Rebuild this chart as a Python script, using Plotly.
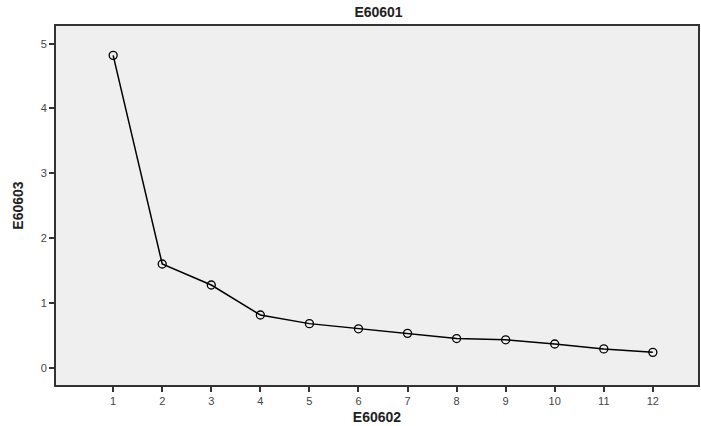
import plotly.graph_objects as go

components = [1, 2, 3, 4, 5, 6, 7, 8, 9, 10, 11, 12]
eigenvalues = [4.82, 1.60, 1.276, 0.813, 0.68, 0.60, 0.53, 0.45, 0.43, 0.366, 0.29, 0.237]
x_ticks = [1, 2, 3, 4, 5, 6, 7, 8, 9, 10, 11, 12]
y_ticks = [0, 1, 2, 3, 4, 5]

fig = go.Figure()
fig.add_trace(go.Scatter(
    x=components, y=eigenvalues, mode="lines+markers",
    line=dict(color="black", width=1.5),
    marker=dict(symbol="circle-open", size=8, color="black", line=dict(width=1.3)),
    showlegend=False,
))

font = "Liberation Sans, Arial, sans-serif"
fig.update_layout(
    width=701, height=426,
    margin=dict(l=56, r=1, t=26, b=41),
    paper_bgcolor="white",
    plot_bgcolor="#efefef",
    title=dict(text="<b>E60601</b>", x=0.54, xanchor="center", y=0.972, yanchor="middle",
               font=dict(family=font, size=14, color="#222")),
    font=dict(family=font),
)
fig.update_xaxes(
    range=[-0.165, 12.92], tickvals=x_ticks, ticktext=[str(v) for v in x_ticks],
    showgrid=False, zeroline=False,
    showline=True, linecolor="#333", linewidth=2, mirror=True,
    ticks="outside", ticklen=5, tickwidth=2, tickcolor="#333",
    tickfont=dict(family=font, size=11, color="#444"),
    title=dict(text="<b>E60602</b>", font=dict(family=font, size=14, color="#222"), standoff=6),
)
fig.update_yaxes(
    range=[-0.267, 5.273], tickvals=y_ticks, ticktext=[str(v) for v in y_ticks],
    showgrid=False, zeroline=False,
    showline=True, linecolor="#333", linewidth=2, mirror=True,
    ticks="outside", ticklen=5, tickwidth=2, tickcolor="#333",
    tickfont=dict(family=font, size=11, color="#444"),
    title=dict(text="<b>E60603</b>", font=dict(family=font, size=14, color="#222"), standoff=14),
)

fig.write_html("out.html", config={"displayModeBar": False},
               post_script="document.body.style.margin='0';document.body.style.padding='0';")
